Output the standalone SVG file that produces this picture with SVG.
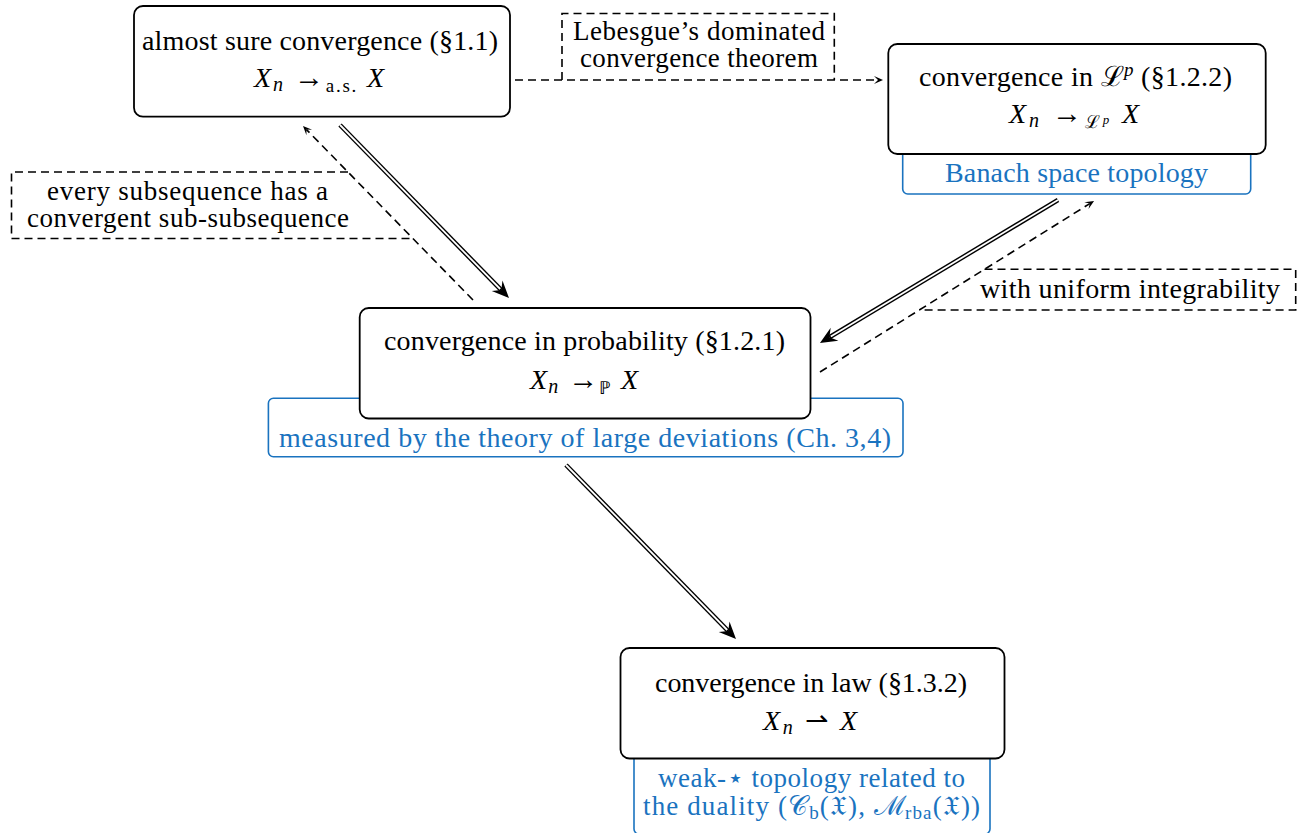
<svg xmlns="http://www.w3.org/2000/svg" width="1308" height="833" viewBox="0 0 1308 833">
<style>
.box{fill:#fff;stroke:#000;stroke-width:1.8}
.blue{fill:#fff;stroke:#1a73bf;stroke-width:1.6}
.lbl{fill:none;stroke:#000;stroke-width:1.6;stroke-dasharray:8 5}
.dash{fill:none;stroke:#000;stroke-width:1.6;stroke-dasharray:8 5}
.dblo{fill:none;stroke:#000;stroke-width:4.6}
.dbli{fill:none;stroke:#fff;stroke-width:1.8}
text{font-family:'Liberation Serif',serif;font-size:28px;text-anchor:middle;fill:#000}
text.sm{font-size:27px}
text.bt{fill:#1a73bf}
.it{font-style:italic}
</style>
<defs>
<marker id="big" viewBox="-7 -8 19 16" refX="0" refY="0" markerWidth="19" markerHeight="16" markerUnits="userSpaceOnUse" orient="auto">
<path d="M11,0 L-6,-7.5 L0,0 L-6,7.5 Z" fill="#000"/>
</marker>
<marker id="small" viewBox="-5 -5 11 10" refX="0" refY="0" markerWidth="11" markerHeight="10" markerUnits="userSpaceOnUse" orient="auto">
<path d="M5,0 L-4,-4 L0,0 L-4,4 Z" fill="#000"/>
</marker>
</defs>

<g id="connectors">
<path class="dash" d="M515,80 L878,80" marker-end="url(#small)"/>
<path class="dash" d="M473,300 L306.5,129.6" marker-end="url(#small)"/>
<path class="dash" d="M820,372 L1089.8,203.6" marker-end="url(#small)"/>
<path class="dblo" d="M340,125 L501.3,290.1" marker-end="url(#big)"/>
<path class="dbli" d="M340,125 L500.2,289"/>
<path class="dblo" d="M1058,200 L829.4,337.3" marker-end="url(#big)"/>
<path class="dbli" d="M1058,200 L830.8,336.5"/>
<path class="dblo" d="M566,465 L728.3,631.1" marker-end="url(#big)"/>
<path class="dbli" d="M566,465 L727.2,630"/>
</g>

<g id="label-lebesgue">
<path class="lbl" d="M562,80 V13.5 H834.3 V80"/>
<text class="sm" x="699" y="40" textLength="252">Lebesgue’s dominated</text>
<text class="sm" x="699" y="67" textLength="238">convergence theorem</text>
</g>

<g id="label-subsequence">
<path class="lbl" d="M348,172 H11.5 V238.5 H412.5"/>
<text class="sm" x="187.5" y="200" textLength="281">every subsequence has a</text>
<text class="sm" x="188" y="227" textLength="322">convergent sub-subsequence</text>
</g>

<g id="label-ui">
<path class="lbl" d="M984.5,269.3 H1295.7 V310 H919.3"/>
<text x="1130" y="298" textLength="300">with uniform integrability</text>
</g>

<g id="node-as">
<rect class="box" x="134" y="6" width="376" height="110.7" rx="9"/>
<text x="320" y="50" textLength="356">almost sure convergence (§1.1)</text>
<text x="319" y="87" textLength="130"><tspan class="it">X</tspan><tspan class="it" font-size="20" dy="4">n</tspan><tspan dy="-4" font-size="30"> →</tspan><tspan font-size="19" dy="5">a.s.</tspan><tspan class="it" dy="-5"> X</tspan></text>
</g>

<g id="node-lp">
<rect class="blue" x="902.7" y="140" width="348" height="54" rx="5"/>
<rect class="box" x="888.3" y="44" width="377.4" height="110" rx="9"/>
<text x="1075.5" y="86" textLength="313">convergence in ℒ<tspan class="it" font-size="19" dy="-10">p</tspan><tspan dy="10"> (§1.2.2)</tspan></text>
<text x="1074" y="123" textLength="130"><tspan class="it">X</tspan><tspan class="it" font-size="20" dy="4">n</tspan><tspan dy="-4" font-size="30"> →</tspan><tspan font-size="18" dy="5">ℒ</tspan><tspan class="it" font-size="13" dy="-4">p</tspan><tspan class="it" dy="-1"> X</tspan></text>
<text class="bt" x="1076.5" y="182" textLength="263">Banach space topology</text>
</g>

<g id="node-prob">
<rect class="blue" x="268.4" y="398.3" width="634.6" height="58.4" rx="5"/>
<rect class="box" x="359.7" y="308" width="450.8" height="110.5" rx="9"/>
<text x="584.5" y="350" textLength="401">convergence in probability (§1.2.1)</text>
<text x="584" y="389" textLength="108"><tspan class="it">X</tspan><tspan class="it" font-size="20" dy="4">n</tspan><tspan dy="-4" font-size="30"> →</tspan><tspan font-size="18" dy="5">ℙ</tspan><tspan class="it" dy="-5"> X</tspan></text>
<text class="bt" x="585" y="447" textLength="612">measured by the theory of large deviations (Ch. 3,4)</text>
</g>

<g id="node-law">
<rect class="blue" x="634" y="745" width="356" height="89" rx="5"/>
<rect class="box" x="620.5" y="648" width="384" height="110.5" rx="9"/>
<text x="811" y="692" textLength="312">convergence in law (§1.3.2)</text>
<text x="810" y="730" textLength="94"><tspan class="it">X</tspan><tspan class="it" font-size="20" dy="4">n</tspan><tspan dy="-4"> ⇀ </tspan><tspan class="it">X</tspan></text>
<text class="bt sm" x="811.5" y="787" textLength="307">weak-⋆ topology related to</text>
<text class="bt sm" x="811.5" y="815" textLength="337">the duality (𝒞<tspan font-size="19" dy="4">b</tspan><tspan dy="-4">(𝔛), ℳ</tspan><tspan font-size="19" dy="4">rba</tspan><tspan dy="-4">(𝔛))</tspan></text>
</g>
</svg>
